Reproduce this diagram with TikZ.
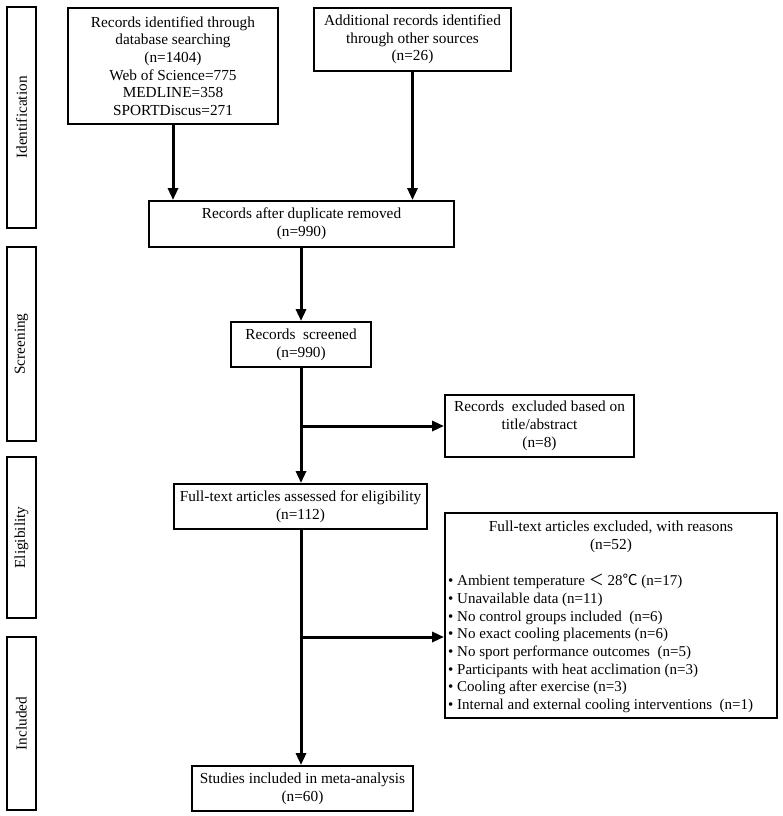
\documentclass[tikz,border=0pt]{standalone}
\usepackage{fontspec}
\setmainfont{Liberation Serif}
\newfontfamily\cjk{Noto Sans CJK SC}
\usetikzlibrary{arrows.meta}
\begin{document}
\begin{tikzpicture}[x=1pt,y=-1pt,
  txt/.style={inner sep=0pt, align=center, font=\fontsize{15.3}{17.7}\selectfont},
  box/.style={txt, draw, line width=1.9pt},
  phase/.style={box, rotate=90},
  arr/.style={line width=3pt, -{Triangle[length=12pt,width=10pt]}},
  ln/.style={line width=3pt},
]
\useasboundingbox (0,0) rectangle (782,816);
% phase boxes
\node[phase, minimum width=221pt, minimum height=29pt] (pid) at (21.5,117.5) {Identification};
\node[phase, minimum width=194pt, minimum height=29pt] (psc) at (21.5,344) {Screening};
\node[phase, minimum width=161pt, minimum height=29pt] (pel) at (21.5,537.5) {Eligibility};
\node[phase, minimum width=173pt, minimum height=29pt] (pin) at (21.5,723.5) {Included};
% main boxes
\node[box, minimum width=210pt, minimum height=116pt] (db) at (173,66) {Records identified through\\database searching\\(n=1404)\\Web of Science=775\\MEDLINE=358\\SPORTDiscus=271};
\node[box, minimum width=197pt, minimum height=63pt] (oth) at (412.5,39.5) {Additional records identified\\through other sources\\(n=26)};
\node[box, minimum width=305pt, minimum height=46pt] (dup) at (301.5,224) {Records after duplicate removed\\(n=990)};
\node[box, minimum width=140pt, minimum height=45pt] (scr) at (301,344.5) {Records~ screened\\(n=990)};
\node[box, minimum width=189pt, minimum height=62pt] (ex1) at (539.5,426) {Records~ excluded based on\\title/abstract\\(n=8)};
\node[box, minimum width=253pt, minimum height=45pt] (ful) at (300.5,506.5) {Full-text articles assessed for eligibility\\(n=112)};
\node[box, minimum width=332pt, minimum height=205pt] (ex2) at (611,615.5) {};
\node[txt] (ex2h) at (611,537) {Full-text articles excluded, with reasons\\(n=52)};
\node[txt, align=left, anchor=north west, font=\fontsize{15}{17.7}\selectfont] (ex2l) at (448,574) {%
• Ambient temperature {\cjk ＜} 28{\cjk ℃} (n=17)\\
• Unavailable data (n=11)\\
• No control groups included~ (n=6)\\
• No exact cooling placements (n=6)\\
• No sport performance outcomes~ (n=5)\\
• Participants with heat acclimation (n=3)\\
• Cooling after exercise (n=3)\\
• Internal and external cooling interventions~ (n=1)};
\node[box, minimum width=221pt, minimum height=45pt] (stu) at (302.5,788.5) {Studies included in meta-analysis\\(n=60)};
% connectors
\coordinate (b1) at (301,426);
\coordinate (b2) at (301,637);
\draw[arr] (db.south) -- (db.south |- dup.north);
\draw[arr] (oth.south) -- (oth.south |- dup.north);
\draw[arr] (dup.south -| scr.north) -- (scr.north);
\draw[ln] (scr.south) -- (b1);
\draw[arr] (b1) -- (ex1.west);
\draw[arr] (b1) -- (ful.north -| b1);
\draw[ln] (ful.south -| b2) -- (b2);
\draw[arr] (b2) -- (b2 -| ex2.west);
\draw[arr] (b2) -- (stu.north -| b2);
\end{tikzpicture}
\end{document}
